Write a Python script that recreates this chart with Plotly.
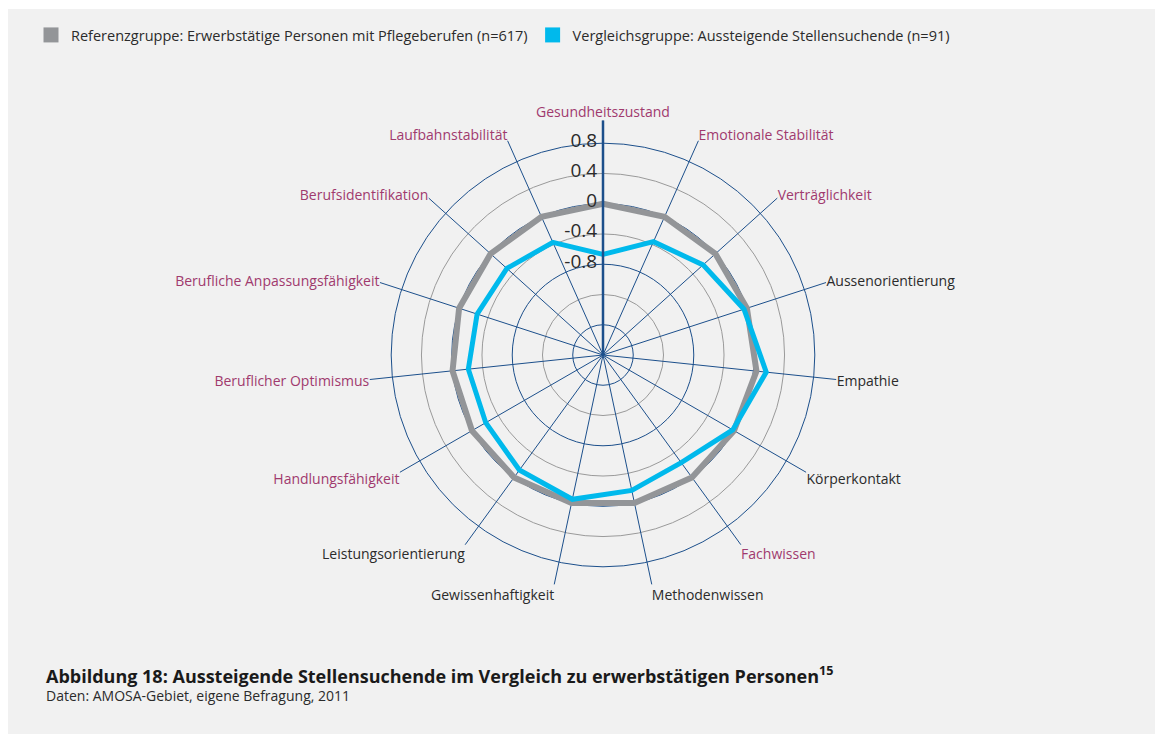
import plotly.graph_objects as go

categories = [
    "Gesundheitszustand", "Emotionale Stabilität", "Verträglichkeit", "Aussenorientierung",
    "Empathie", "Körperkontakt", "Fachwissen", "Methodenwissen", "Gewissenhaftigkeit",
    "Leistungsorientierung", "Handlungsfähigkeit", "Beruflicher Optimismus",
    "Berufliche Anpassungsfähigkeit", "Berufsidentifikation", "Laufbahnstabilität",
]
label_highlight = [True, True, True, False, False, False, True, False, False, False,
                   True, True, True, True, True]
referenz = [0.0, 0.0, 0.0, 0.0, 0.04, 0.0, 0.0, 0.0, 0.0, 0.0, 0.0, 0.0, 0.0, 0.0, 0.0]
vergleich = [-0.67, -0.36, -0.22, -0.04, 0.17, -0.02, -0.24, -0.17, -0.05, -0.12,
             -0.21, -0.21, -0.25, -0.29, -0.37]
series_names = [
    "Referenzgruppe: Erwerbstätige Personen mit Pflegeberufen (n=617)",
    "Vergleichsgruppe: Aussteigende Stellensuchende (n=91)",
]
label_ticks = [-0.8, -0.4, 0, 0.4, 0.8]
label_ticktext = ["-0.8", "-0.4", "0", "0.4", "0.8"]
grey_ticks = [-1.2, -0.4, 0.4]
navy_ticks = [-1.6, -0.8, 0, 0.8]

GREY = "#939598"
CYAN = "#00b9ec"
NAVY = "#1c4f8b"
PURPLE = "#a03a6e"
TEXT = "#2b2b2b"
FONT = "Open Sans"

# page body has an 8px margin: figure is offset by (8, 8) in the window
W, H = 1155, 729
OFF = 8

def px(x):
    return (x - OFF) / W

def py(y):
    return 1 - (y - OFF) / H

ticktext = [
    f'<span style="color:{PURPLE}">{c}</span>' if h else c
    for c, h in zip(categories, label_highlight)
]

def closed(v):
    return list(v) + [v[0]]

fig = go.Figure()

# helper traces so the grid-only / label-only subplots are rendered
for sp in ["polar", "polar3"]:
    fig.add_trace(go.Scatterpolar(
        r=[None] * len(categories), theta=categories, mode="lines",
        showlegend=False, subplot=sp, hoverinfo="skip"))

fig.add_trace(go.Scatterpolar(
    r=closed(referenz), theta=closed(categories), mode="lines",
    line=dict(color=GREY, width=6), showlegend=False, subplot="polar2",
    hoverinfo="skip"))
fig.add_trace(go.Scatterpolar(
    r=closed(vergleich), theta=closed(categories), mode="lines",
    line=dict(color=CYAN, width=5), showlegend=False, subplot="polar2",
    hoverinfo="skip"))
for name, col in zip(series_names, [GREY, CYAN]):
    fig.add_trace(go.Scatterpolar(
        r=[None], theta=[categories[0]], mode="markers", name=name,
        marker=dict(symbol="square", size=15, color=col), subplot="polar2"))

cx, cy, R = 603, 355, 234.5
domain = dict(x=[px(cx - R), px(cx + R)], y=[py(cy + R), py(cy - R)])
# radial value labels sit slightly up and right of their rings
lx, ly = cx + 8, cy - 6
label_domain = dict(x=[px(lx - R), px(lx + R)], y=[py(ly + R), py(ly - R)])
rrange = [-2.0, 1.1]

hidden_angular = dict(categoryorder="array", categoryarray=categories,
                      showgrid=False, showline=False, showticklabels=False,
                      ticks="", rotation=90, direction="clockwise")

fig.update_layout(
    width=W, height=H,
    margin=dict(l=0, r=0, t=0, b=0),
    paper_bgcolor="white",
    font=dict(family=FONT, size=14, color=TEXT),
    polar=dict(
        domain=domain, bgcolor="rgba(0,0,0,0)",
        radialaxis=dict(range=rrange, tickvals=grey_ticks, showticklabels=False,
                        showgrid=True, gridcolor="#9a9a9a", gridwidth=0.8,
                        showline=False, ticks="", angle=90),
        angularaxis=hidden_angular,
    ),
    polar2=dict(
        domain=domain, bgcolor="rgba(0,0,0,0)",
        radialaxis=dict(range=rrange, tickvals=navy_ticks, showticklabels=False,
                        showgrid=True, gridcolor=NAVY, gridwidth=1,
                        showline=True, linecolor=NAVY, linewidth=2.5,
                        ticks="", angle=90),
        angularaxis=dict(categoryorder="array", categoryarray=categories,
                         tickvals=categories, ticktext=ticktext,
                         showgrid=True, gridcolor=NAVY, gridwidth=1,
                         showline=False, ticks="", rotation=90, direction="clockwise",
                         tickfont=dict(size=14, color=TEXT, family=FONT)),
    ),
    polar3=dict(
        domain=label_domain, bgcolor="rgba(0,0,0,0)",
        radialaxis=dict(range=rrange, tickvals=label_ticks, ticktext=label_ticktext,
                        showgrid=False, showline=False, ticks="", angle=90,
                        side="counterclockwise",
                        tickfont=dict(size=19, color=TEXT, family=FONT)),
        angularaxis=hidden_angular,
    ),
    legend=dict(orientation="h", x=px(31), y=py(35), yanchor="middle",
                xanchor="left", bgcolor="rgba(0,0,0,0)",
                font=dict(size=14.5, color=TEXT, family=FONT)),
    shapes=[dict(type="rect", xref="paper", yref="paper",
                 x0=px(8), x1=px(1158), y0=py(734), y1=py(9),
                 fillcolor="#f1f1f1", line=dict(width=0), layer="below")],
    annotations=[
        dict(text="<b>Abbildung 18: Aussteigende Stellensuchende im Vergleich zu erwerbstätigen Personen</b><sup><b>15</b></sup>",
             xref="paper", yref="paper", x=px(44), y=py(675),
             xanchor="left", yanchor="middle", showarrow=False,
             font=dict(size=18, color="#1a1a1a", family=FONT)),
        dict(text="Daten: AMOSA-Gebiet, eigene Befragung, 2011",
             xref="paper", yref="paper", x=px(44), y=py(695),
             xanchor="left", yanchor="middle", showarrow=False,
             font=dict(size=14, color=TEXT, family=FONT)),
    ],
)

fig.write_html("out.html")
